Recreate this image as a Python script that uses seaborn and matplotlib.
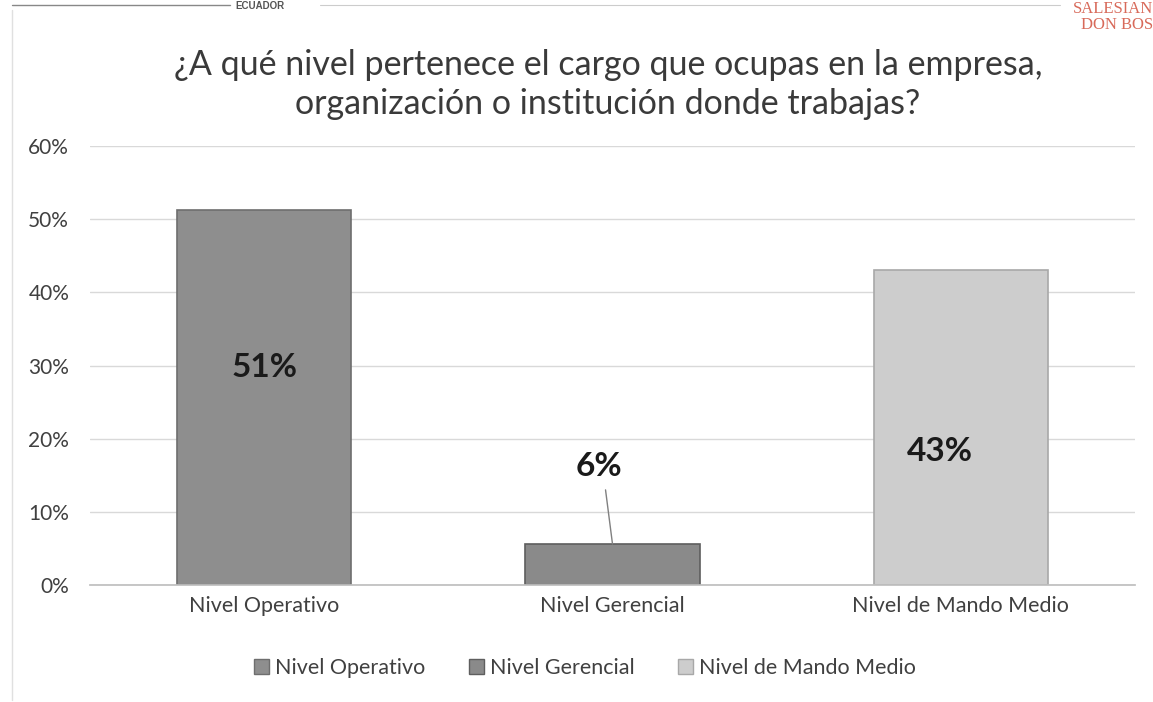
import matplotlib
matplotlib.use("Agg")
import matplotlib.pyplot as plt
import seaborn as sns
import pandas as pd
from matplotlib.patches import Patch
from matplotlib.ticker import PercentFormatter

categories = ["Nivel Operativo", "Nivel Gerencial", "Nivel de Mando Medio"]
values = [51.2, 5.6, 43.0]
labels = ["51%", "6%", "43%"]
colors = ["#8e8e8e", "#8a8a8a", "#cdcdcd"]
edges = ["#6e6e6e", "#5e5e5e", "#a8a8a8"]
yticks = [0, 10, 20, 30, 40, 50, 60]

df = pd.DataFrame({"cat": categories, "val": values})

sns.set_theme(style="white")
plt.rcParams['font.family'] = ['Lato', 'DejaVu Sans']

fig = plt.figure(figsize=(11.53, 7.02), dpi=100)
ax = fig.add_axes([90/1153, 1-585/702, (1135-90)/1153, (585-146)/702])

sns.barplot(data=df, x="cat", y="val", hue="cat", palette=colors, width=0.5,
            legend=False, ax=ax, saturation=1)
for p, ec in zip(ax.patches, edges):
    p.set_edgecolor(ec)
    p.set_linewidth(1.2)

ax.set_ylim(0, 60)
ax.set_xlim(-0.5, 2.5)
ax.set_yticks(yticks)
ax.yaxis.set_major_formatter(PercentFormatter(decimals=0))
ax.grid(axis="y", color="#d9d9d9", linewidth=1)
ax.set_axisbelow(True)
for s in ["top", "right", "left"]:
    ax.spines[s].set_visible(False)
ax.spines["bottom"].set_color("#bfbfbf")
ax.set_xlabel("")
ax.set_ylabel("")
ax.tick_params(axis="y", labelsize=15, colors="#404040", pad=15, length=0)
ax.tick_params(axis="x", labelsize=15.5, colors="#404040", pad=8, length=0)

# data labels
ax.text(0, 29.7, labels[0], ha="center", va="center", fontsize=24, fontweight="bold", color="#1a1a1a")
ax.text(2 - 0.06, 18.2, labels[2], ha="center", va="center", fontsize=24, fontweight="bold", color="#1a1a1a")
ax.text(1 - 0.04, 16.2, labels[1], ha="center", va="center", fontsize=24, fontweight="bold", color="#1a1a1a")
ax.plot([1 - 0.02, 1.0], [13.0, values[1]], color="#808080", linewidth=1)

fig.text(608/1153, 1-65/702, "¿A qué nivel pertenece el cargo que ocupas en la empresa,",
         ha="center", va="center", fontsize=24.5, color="#3a3a3a")
fig.text(608/1153, 1-104/702, "organización o institución donde trabajas?",
         ha="center", va="center", fontsize=24.5, color="#3a3a3a")

handles = [Patch(facecolor=c, edgecolor=e, label=l) for c, e, l in zip(colors, edges, categories)]
fig.legend(handles=handles, loc="center", bbox_to_anchor=(585/1153, 1-668/702), ncol=3,
           frameon=False, fontsize=15.5, handlelength=0.7, handleheight=0.7,
           handletextpad=0.3, columnspacing=2.0, labelcolor="#404040")

# scan header remnants
fig.add_artist(plt.Line2D([12/1153, 230/1153], [1-5/702, 1-5/702], color="#888888", linewidth=1))
fig.add_artist(plt.Line2D([320/1153, 1060/1153], [1-5/702, 1-5/702], color="#cccccc", linewidth=0.8))
fig.text(235/1153, 1-1/702, "ECUADOR", ha="left", va="top", fontsize=7, fontweight="bold",
         color="#555555", family=["Liberation Sans", "DejaVu Sans"])
fig.text(1153/1153, 1-9/702, "SALESIAN", ha="right", va="center", fontsize=12,
         color="#d86a5a", family=["Liberation Serif", "DejaVu Serif"])
fig.text(1153/1153, 1-25/702, "DON BOS", ha="right", va="center", fontsize=12,
         color="#d86a5a", family=["Liberation Serif", "DejaVu Serif"])
fig.add_artist(plt.Line2D([12/1153, 12/1153], [1-10/702, 1-700/702], color="#e0e0e0", linewidth=1))

fig.savefig("out.png", dpi=100, facecolor="white")
